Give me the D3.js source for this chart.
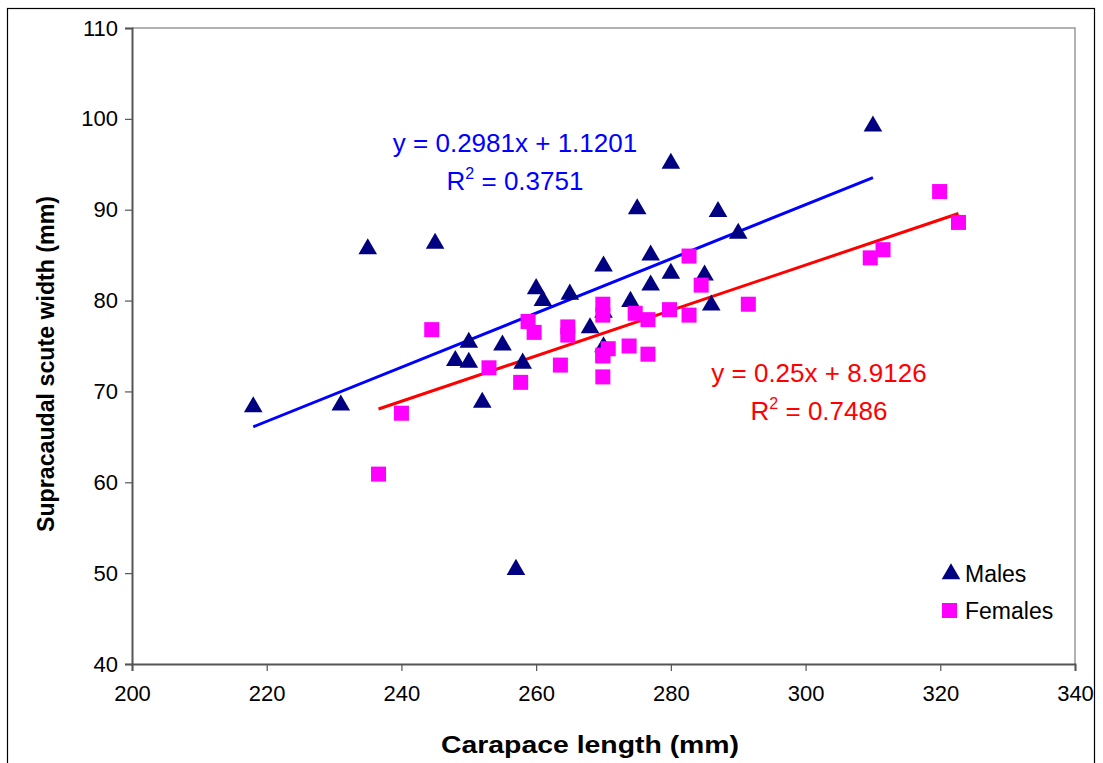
<!DOCTYPE html>
<html>
<head>
<meta charset="utf-8">
<script src="https://cdn.jsdelivr.net/npm/d3@7"></script>
<style>
  body { margin: 0; background: #fff; }
  svg { display: block; font-family: "Liberation Sans", Arial, sans-serif; }
</style>
</head>
<body>
<div id="chart"></div>
<script>
	'use strict';

	// males: carapace length / supracaudal width
	var malesX = [218, 231, 235, 245, 248, 250, 250, 252, 255, 257, 258, 260, 261, 265, 268, 270, 270, 270, 274, 275, 277, 277, 280, 280, 285, 286, 287, 290, 310];
	var malesY = [68.4, 68.6, 85.8, 86.4, 73.5, 75.5, 73.3, 68.9, 75.2, 50.5, 73.2, 81.4, 80.1, 80.8, 77.1, 83.9, 78.8, 75.0, 80.0, 90.2, 85.1, 81.8, 95.2, 83.1, 82.9, 79.6, 89.9, 87.5, 99.3];

	// females
	var femalesX = [236.6, 240, 244.5, 253, 257.7, 258.8, 259.7, 263.6, 264.7, 264.7, 269.9, 269.9, 269.9, 270.7, 269.9, 269.9, 273.8, 274.7, 276.6, 276.6, 279.8, 282.7, 282.7, 284.5, 291.5, 309.6, 311.5, 319.9, 322.7];
	var femalesY = [60.9, 67.6, 76.8, 72.6, 71.0, 77.7, 76.5, 72.9, 77.1, 76.2, 79.6, 78.4, 73.9, 74.7, 71.6, 74.0, 75.0, 78.6, 77.9, 74.1, 79.0, 78.4, 84.9, 81.7, 79.6, 84.7, 85.6, 92.0, 88.6];

	// linear trend lines: [slope, intercept]
	var malesFit = [0.2981, 1.1201];
	var femalesFit = [0.25, 8.9126];
	var malesLabel = ['y = 0.2981x + 1.1201', '0.3751'];
	var femalesLabel = ['y = 0.25x + 8.9126', '0.7486'];

	var xTicks = [200, 220, 240, 260, 280, 300, 320, 340];
	var yTicks = [40, 50, 60, 70, 80, 90, 100, 110];

(function () {
	var width = 1103;
	var height = 763;
	var m = { left: 132, right: 1075, top: 28, bottom: 664 };

	var svg = d3.select('#chart').append('svg')
		.attr('width', width)
		.attr('height', height);

	// outer chart frame
	svg.append('rect')
		.attr('x', 7.5).attr('y', 8.5)
		.attr('width', 1087).attr('height', 780)
		.attr('fill', 'none').attr('stroke', '#000').attr('stroke-width', 1.2);

	var x = d3.scaleLinear().domain([200, 340]).range([m.left, m.right]);
	var y = d3.scaleLinear().domain([40, 110]).range([m.bottom, m.top]);

	// plot area border (top/right light gray)
	svg.append('path')
		.attr('d', 'M' + m.left + ',' + m.top + 'H' + m.right + 'V' + m.bottom)
		.attr('fill', 'none').attr('stroke', '#999').attr('stroke-width', 1.5);

	var xAxis = svg.append('g')
		.attr('transform', 'translate(0,' + m.bottom + ')')
		.call(d3.axisBottom(x).tickValues(xTicks).tickSize(7).tickPadding(14));
	var yAxis = svg.append('g')
		.attr('transform', 'translate(' + m.left + ',0)')
		.call(d3.axisLeft(y).tickValues(yTicks).tickSize(7).tickPadding(7));

	[xAxis, yAxis].forEach(function (g) {
		g.select('.domain').attr('stroke', '#555').attr('stroke-width', 2);
		g.selectAll('.tick line').attr('stroke', '#555').attr('stroke-width', 1.2);
		g.selectAll('.tick text')
			.attr('fill', '#000')
			.style('font-size', '22px')
			.style('font-family', '"Liberation Sans", Arial, sans-serif');
	});

	// axis titles
	svg.append('text')
		.attr('x', 590).attr('y', 753)
		.attr('text-anchor', 'middle')
		.attr('textLength', 298).attr('lengthAdjust', 'spacingAndGlyphs')
		.style('font-size', '24px').style('font-weight', 'bold')
		.text('Carapace length (mm)');
	svg.append('text')
		.attr('transform', 'translate(54,364) rotate(-90)')
		.attr('text-anchor', 'middle')
		.attr('textLength', 336).attr('lengthAdjust', 'spacingAndGlyphs')
		.style('font-size', '23px').style('font-weight', 'bold')
		.text('Supracaudal scute width (mm)');

	// trend lines
	function fitLine(xs, fit, color) {
		var ext = d3.extent(xs);
		svg.append('line')
			.attr('x1', x(ext[0])).attr('y1', y(fit[0] * ext[0] + fit[1]))
			.attr('x2', x(ext[1])).attr('y2', y(fit[0] * ext[1] + fit[1]))
			.attr('stroke', color).attr('stroke-width', 3);
	}
	fitLine(malesX, malesFit, '#0000ff');
	fitLine(femalesX, femalesFit, '#ff0000');

	var tri = d3.symbol().type(d3.symbolTriangle).size(150);

	svg.append('g').selectAll('path')
		.data(malesX.map(function (v, i) { return [v, malesY[i]]; }))
		.enter().append('path')
		.attr('d', tri)
		.attr('transform', function (d) { return 'translate(' + x(d[0]) + ',' + (y(d[1]) + 1) + ')'; })
		.attr('fill', '#000080');

	svg.append('g').selectAll('rect')
		.data(femalesX.map(function (v, i) { return [v, femalesY[i]]; }))
		.enter().append('rect')
		.attr('x', function (d) { return x(d[0]) - 7.5; })
		.attr('y', function (d) { return y(d[1]) - 7.5; })
		.attr('width', 15).attr('height', 15)
		.attr('fill', '#ff00ff');

	// equation labels
	function eqLabel(cx, cy, lines, color) {
		var g = svg.append('g').attr('fill', color).style('font-size', '26px');
		g.append('text').attr('x', cx).attr('y', cy).attr('text-anchor', 'middle').text(lines[0]);
		var t = g.append('text').attr('x', cx).attr('y', cy + 38).attr('text-anchor', 'middle');
		t.append('tspan').text('R');
		t.append('tspan').attr('dy', -11).style('font-size', '16px').text('2');
		t.append('tspan').attr('dy', 11).text(' = ' + lines[1]);
	}
	eqLabel(515, 152, malesLabel, '#0000ff');
	eqLabel(819, 382, femalesLabel, '#ff0000');

	// legend
	var legend = svg.append('g').style('font-size', '23px');
	legend.append('path').attr('d', tri).attr('transform', 'translate(951,574)').attr('fill', '#000080');
	legend.append('text').attr('x', 965).attr('y', 582).text('Males');
	legend.append('rect').attr('x', 942).attr('y', 603).attr('width', 15).attr('height', 15).attr('fill', '#ff00ff');
	legend.append('text').attr('x', 965).attr('y', 619).text('Females');
})();
</script>
</body>
</html>
